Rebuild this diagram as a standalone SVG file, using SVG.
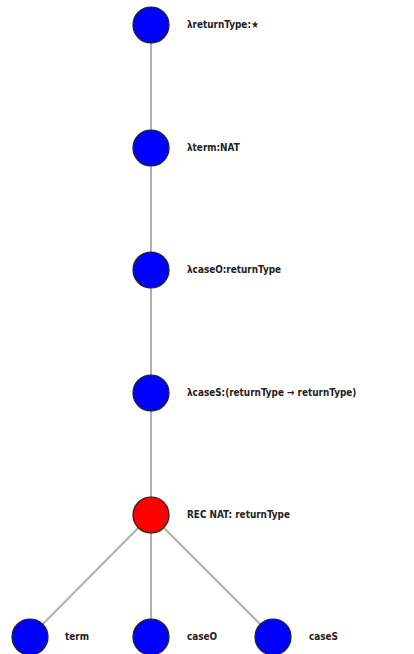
<svg xmlns="http://www.w3.org/2000/svg" width="414" height="654" viewBox="0 0 414 654">
<style>
.e{stroke:#b0b0b0;stroke-width:2;fill:none}
.n{stroke:#222;stroke-width:1.2}
.b{fill:#0000ff}
.r{fill:#ff0000}
text{font-family:"DejaVu Sans Condensed","DejaVu Sans",sans-serif;font-weight:bold;font-size:9.9px;fill:#222}
</style>
<rect width="414" height="654" fill="#fff"/>
<g id="edges">
<line class="e" x1="151" y1="25" x2="151" y2="515"/>
<line class="e" x1="151" y1="515" x2="30" y2="637"/>
<line class="e" x1="151" y1="515" x2="151" y2="637"/>
<line class="e" x1="151" y1="515" x2="273" y2="637"/>
</g>
<g id="n1"><circle class="n b" cx="151" cy="25" r="18"/><text x="187" y="28">λreturnType:★</text></g>
<g id="n2"><circle class="n b" cx="151" cy="148" r="18"/><text x="187" y="151">λterm:NAT</text></g>
<g id="n3"><circle class="n b" cx="151" cy="270" r="18"/><text x="187" y="273">λcaseO:returnType</text></g>
<g id="n4"><circle class="n b" cx="151" cy="393" r="18"/><text x="187" y="396">λcaseS:(returnType → returnType)</text></g>
<g id="n5"><circle class="n r" cx="151" cy="515" r="18"/><text x="187" y="518">REC NAT: returnType</text></g>
<g id="n6"><circle class="n b" cx="30" cy="637" r="18"/><text x="65" y="640">term</text></g>
<g id="n7"><circle class="n b" cx="151" cy="637" r="18"/><text x="187" y="640">caseO</text></g>
<g id="n8"><circle class="n b" cx="273" cy="637" r="18"/><text x="309" y="640">caseS</text></g>
</svg>
